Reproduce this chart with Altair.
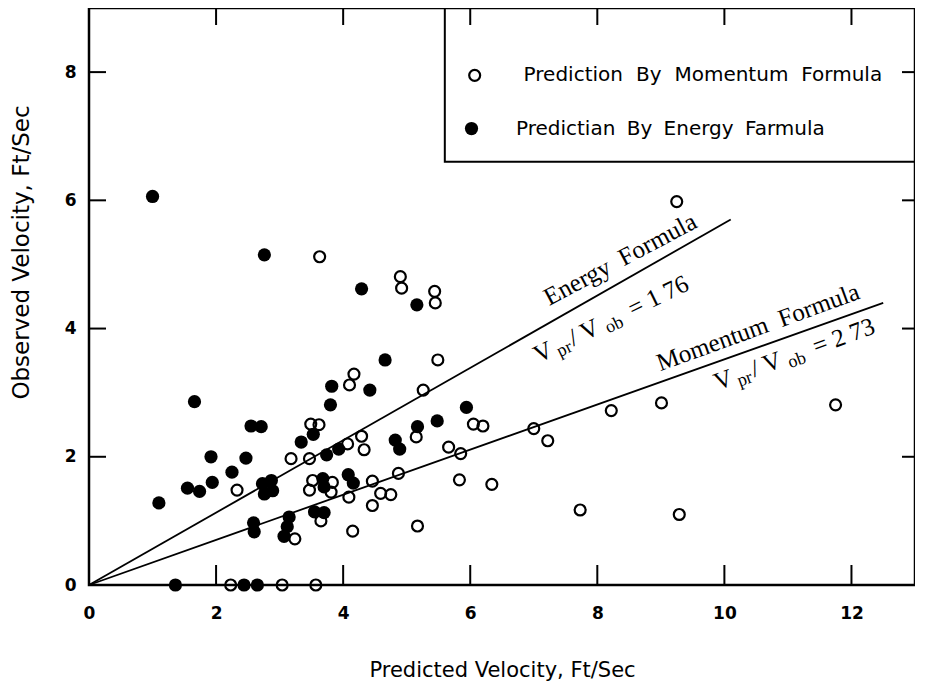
import altair as alt
import pandas as pd

# ---------------- data ----------------
# Prediction by momentum formula (open circles)
mom_x = [3.63, 4.90, 4.92, 5.44, 5.45, 9.25, 5.49, 4.17, 4.10, 5.26, 3.49, 3.62, 6.05, 6.20,
         7.00, 7.22, 8.22, 9.01, 11.75, 4.29, 5.15, 4.07, 4.33, 5.66, 5.85, 3.18, 3.47, 2.33,
         4.87, 4.46, 4.09, 4.59, 4.75, 4.46, 5.83, 6.34, 5.17, 4.15, 3.65, 3.24, 7.73, 9.29,
         3.52, 3.83, 3.47, 3.81, 2.23, 3.04, 3.57]
mom_y = [5.12, 4.81, 4.63, 4.58, 4.40, 5.98, 3.51, 3.29, 3.12, 3.04, 2.51, 2.50, 2.51, 2.48,
         2.44, 2.25, 2.72, 2.84, 2.81, 2.32, 2.31, 2.20, 2.11, 2.15, 2.05, 1.97, 1.97, 1.48,
         1.74, 1.62, 1.37, 1.43, 1.41, 1.24, 1.64, 1.57, 0.92, 0.84, 1.00, 0.72, 1.17, 1.10,
         1.63, 1.60, 1.48, 1.45, 0.0, 0.0, 0.0]

# Prediction by energy formula (filled circles)
en_x = [1.00, 2.76, 4.29, 5.16, 4.66, 3.82, 4.42, 1.66, 3.80, 5.94, 2.55, 2.71, 3.53, 3.34,
        5.48, 5.17, 3.93, 3.74, 4.82, 4.89, 1.92, 2.47, 2.25, 1.94, 1.55, 1.74, 1.10, 2.73,
        2.87, 2.76, 2.89, 3.68, 3.70, 4.08, 4.16, 3.55, 3.70, 3.15, 3.12, 3.07, 2.59, 2.60,
        1.36, 2.44, 2.65]
en_y = [6.06, 5.15, 4.62, 4.37, 3.51, 3.10, 3.04, 2.86, 2.81, 2.77, 2.48, 2.47, 2.35, 2.23,
        2.56, 2.47, 2.12, 2.03, 2.26, 2.12, 2.00, 1.98, 1.76, 1.60, 1.51, 1.46, 1.28, 1.58,
        1.63, 1.42, 1.47, 1.66, 1.53, 1.72, 1.59, 1.14, 1.13, 1.06, 0.91, 0.76, 0.97, 0.83,
        0.0, 0.0, 0.0]

# fitted ratio lines  (Vpr / Vob)
line_names = ["Energy", "Energy", "Momentum", "Momentum"]
line_x = [0.0, 10.1, 0.0, 12.5]
line_y = [0.0, 5.7, 0.0, 4.4]

x_tick_values = [2, 4, 6, 8, 10, 12]
y_tick_values = [2, 4, 6, 8]
x_label_values = [0, 2, 4, 6, 8, 10, 12]
y_label_values = [0, 2, 4, 6, 8]

legend_labels = ["Prediction \u2004By \u2004Momentum \u2004Formula",
                 "Predictian \u2005By \u2005Energy \u2005Farmula"]
line_titles = ["Energy \u2005Formula", "Momentum \u2005Formula"]
ratio_values = ["= 1 76", "= 2 73"]

# ---------------- layout ----------------
W, H = 826, 577
xscale = alt.Scale(domain=[0, 13], nice=False, zero=False)
yscale = alt.Scale(domain=[0, 9], nice=False, zero=False)
TICK_FONT = "DejaVu Sans"
TITLE_FONT = "DejaVu Sans"
LEGEND_FONT = "DejaVu Sans"
SERIF = "Liberation Serif"

x_axis = alt.Axis(values=x_label_values, title="Predicted Velocity, Ft/Sec",
                  titleY=85, titleBaseline="middle", labelFlush=False)
y_axis = alt.Axis(values=y_label_values, title="Observed Velocity, Ft/Sec",
                  titleX=-68, titleY=244, titleAngle=270,
                  titleBaseline="middle", titleAlign="center", labelFlush=False)


def X(field="x"):
    return alt.X(f"{field}:Q", scale=xscale, axis=x_axis)


def Y(field="y"):
    return alt.Y(f"{field}:Q", scale=yscale, axis=y_axis)


mom_df = pd.DataFrame({"x": mom_x, "y": mom_y})
en_df = pd.DataFrame({"x": en_x, "y": en_y})
line_df = pd.DataFrame({"name": line_names, "x": line_x, "y": line_y})

lines = alt.Chart(line_df).mark_line(color="black", strokeWidth=1.8).encode(
    x=X(), y=Y(), detail="name:N")

filled_pts = alt.Chart(en_df).mark_point(
    shape="circle", filled=True, color="black", size=175, opacity=1).encode(x=X(), y=Y())
open_pts = alt.Chart(mom_df).mark_point(
    shape="circle", filled=False, color="black", strokeWidth=2.2, size=120, opacity=1
).encode(x=X(), y=Y())

# inward ticks
xt_df = pd.DataFrame({"x": x_tick_values})
yt_df = pd.DataFrame({"y": y_tick_values})
tick_style = dict(color="black", strokeWidth=2)
ticks_bottom = alt.Chart(xt_df).mark_rule(**tick_style).encode(
    x=X(), y=alt.value(H), y2=alt.value(H - 20))
ticks_top = alt.Chart(xt_df).mark_rule(**tick_style).encode(
    x=X(), y=alt.value(0), y2=alt.value(17))
ticks_left = alt.Chart(yt_df).mark_rule(**tick_style).encode(
    y=Y(), x=alt.value(0), x2=alt.value(17))
ticks_right = alt.Chart(yt_df).mark_rule(**tick_style).encode(
    y=Y(), x=alt.value(W), x2=alt.value(W - 13))

# legend (drawn inside the plot area)
box_df = pd.DataFrame({"x": [5.6], "x2": [13.0], "y": [6.6], "y2": [9.0]})
legend_box = alt.Chart(box_df).mark_rect(
    fill="white", fillOpacity=0, stroke="black", strokeWidth=2).encode(
    x=X(), x2="x2:Q", y=Y(), y2="y2:Q")
leg_df = pd.DataFrame({"label": legend_labels,
                       "mx": [6.07, 6.02], "my": [7.95, 7.12],
                       "tx": [6.84, 6.72]})
leg_open = alt.Chart(leg_df.iloc[[0]]).mark_point(
    shape="circle", filled=False, color="black", strokeWidth=2.2, size=120, opacity=1
).encode(x=X("mx"), y=Y("my"))
leg_filled = alt.Chart(leg_df.iloc[[1]]).mark_point(
    shape="circle", filled=True, color="black", size=175, opacity=1
).encode(x=X("mx"), y=Y("my"))
leg_text = alt.Chart(leg_df).mark_text(
    align="left", baseline="middle", font=LEGEND_FONT, fontSize=20, color="black"
).encode(x=X("tx"), y=Y("my"), text="label:N")

# line annotations
title_df = pd.DataFrame({"label": line_titles, "x": [8.36, 10.53], "y": [5.08, 4.02],
                         "ang": [332, 340]})
line_title_text = alt.Chart(title_df).mark_text(
    align="center", baseline="middle", font=SERIF, fontSize=25, color="black"
).encode(x=X(), y=Y(), text="label:N", angle=alt.Angle("ang:Q", scale=None))

ratio_df = pd.DataFrame({"val": ratio_values, "x": [7.02, 9.85], "y": [3.57, 3.15],
                         "ang": [334, 340]})
pieces = [("V", 0, 0, 25), ("pr", 22, 7, 18), ("/ V", 39, 0, 25), ("ob", 76, 7, 18)]
ratio_layers = []
for txt, dx, dy, fs in pieces:
    ratio_layers.append(
        alt.Chart(ratio_df).mark_text(
            align="left", baseline="middle", font=SERIF, fontSize=fs, dx=dx, dy=dy,
            color="black", text=txt
        ).encode(x=X(), y=Y(), angle=alt.Angle("ang:Q", scale=None)))
ratio_layers.append(
    alt.Chart(ratio_df).mark_text(
        align="left", baseline="middle", font=SERIF, fontSize=25, dx=105, color="black"
    ).encode(x=X(), y=Y(), text="val:N", angle=alt.Angle("ang:Q", scale=None)))

chart = alt.layer(
    lines, filled_pts, open_pts,
    ticks_bottom, ticks_top, ticks_left, ticks_right,
    legend_box, leg_open, leg_filled, leg_text,
    line_title_text, *ratio_layers,
).properties(
    width=W, height=H,
    autosize=alt.AutoSizeParams(type="none"),
    padding={"left": 81, "top": 0, "right": 0, "bottom": 100},
    background="white",
).configure_view(
    stroke="black", strokeWidth=2.5
).configure_axis(
    grid=False, domain=False, ticks=False,
    labelFont=TICK_FONT, labelFontSize=17, labelFontWeight="bold", labelColor="black",
    titleFont=TITLE_FONT, titleFontWeight="normal", titleColor="black",
).configure_axisX(
    labelPadding=20, labelBaseline="top", titleFontSize=21
).configure_axisY(
    labelPadding=13, titleFontSize=23
)

chart.save("out.html", embed_options={"renderer": "svg", "actions": False})
